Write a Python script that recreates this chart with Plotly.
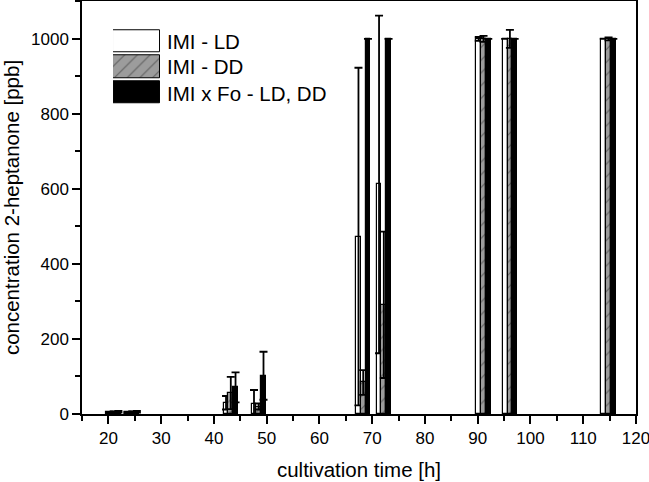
import plotly.graph_objects as go

# ---- data ----
times = [21.0, 24.5, 43.2, 48.5, 68.3, 72.2, 91.1, 96.1, 114.8]
ld_values = [4, 4, 30, 28, 473, 612, 1000, 1000, 1000]
ld_errors = [2, 2, 18, 36, 450, 450, 5, 0, 0]
dd_values = [5, 5, 56, 20, 84, 291, 1000, 1000, 1000]
dd_errors = [2, 2, 43, 8, 33, 195, 8, 24, 4]
fo_values = [6, 6, 71, 102, 1000, 1000, 1000, 1000, 1000]
fo_errors = [2, 2, 40, 64, 0, 0, 0, 0, 0]
series_names = ["IMI - LD", "IMI - DD", "IMI x Fo - LD, DD"]
x_ticks = [20, 30, 40, 50, 60, 70, 80, 90, 100, 110, 120]
y_ticks = [0, 200, 400, 600, 800, 1000]

FONT = "Liberation Sans, Arial, sans-serif"
BAR_W = 0.9
hatch = dict(shape="/", bgcolor="#9c9c9c", fgcolor="#222222", size=9, solidity=0.12)

styles = [
    dict(color="white", pattern=None),
    dict(color="#9c9c9c", pattern=hatch),
    dict(color="black", pattern=None),
]
offsets = [-1.5 * BAR_W, -0.5 * BAR_W, 0.5 * BAR_W]
vals = [ld_values, dd_values, fo_values]
errs = [ld_errors, dd_errors, fo_errors]

fig = go.Figure()
for name, v, e, st, off in zip(series_names, vals, errs, styles, offsets):
    marker = dict(color=st["color"], line=dict(color="black", width=1.2))
    if st["pattern"]:
        marker["pattern"] = st["pattern"]
    fig.add_trace(go.Bar(
        x=times, y=v, name=name, width=BAR_W, offset=off,
        marker=marker, showlegend=False,
        error_y=dict(type="data", array=e, visible=True, color="black",
                     thickness=1.8, width=4),
    ))

# custom legend with large swatches on an inset axis
legend_rows = [2, 1, 0]
for name, st, row in zip(series_names, styles, legend_rows):
    marker = dict(color=st["color"], line=dict(color="black", width=1))
    if st["pattern"]:
        marker["pattern"] = st["pattern"]
    fig.add_trace(go.Bar(
        x=[1], y=[row], orientation="h", width=0.88, marker=marker,
        xaxis="x2", yaxis="y2", showlegend=False, hoverinfo="skip",
    ))

ann = []
for name, ypos in zip(series_names, [0.903, 0.842, 0.777]):
    ann.append(dict(text=name, x=0.149, y=ypos, xref="paper", yref="paper",
                    xanchor="left", yanchor="middle", showarrow=False,
                    font=dict(family=FONT, size=20.5, color="black")))

axis_common = dict(showline=True, linecolor="black", linewidth=1.5, mirror=True,
                   ticks="outside", ticklen=8, tickwidth=1.5, tickcolor="black",
                   showgrid=False, zeroline=False, automargin=False,
                   ticklabeloverflow="allow",
                   tickfont=dict(family=FONT, size=17, color="black"))

fig.update_layout(
    width=649, height=482,
    margin=dict(l=82, r=13, t=1, b=68),
    paper_bgcolor="white", plot_bgcolor="white",
    barmode="overlay",
    annotations=ann,
    xaxis=dict(range=[15, 120], tickvals=x_ticks,
               minor=dict(ticks="outside", ticklen=5, tickwidth=1.5, dtick=5, tick0=0, tickcolor="black"),
               title=dict(text="cultivation time [h]", font=dict(family=FONT, size=20.5, color="black"), standoff=15),
               **axis_common),
    yaxis=dict(range=[0, 1101], tickvals=y_ticks,
               minor=dict(ticks="outside", ticklen=5, tickwidth=1.5, dtick=100, tick0=0, tickcolor="black"),
               title=dict(text="concentration 2-heptanone [ppb]", font=dict(family=FONT, size=20.5, color="black"), standoff=7),
               **axis_common),
    xaxis2=dict(domain=[0.056, 0.141], range=[0, 1], anchor="y2", visible=False, fixedrange=True),
    yaxis2=dict(domain=[0.748, 0.934], range=[-0.5, 2.5], anchor="x2", visible=False, fixedrange=True),
    bargap=0,
)

fig.write_html("out.html", config={"displayModeBar": False},
               post_script="document.body.style.margin='0';document.body.style.padding='0';")
